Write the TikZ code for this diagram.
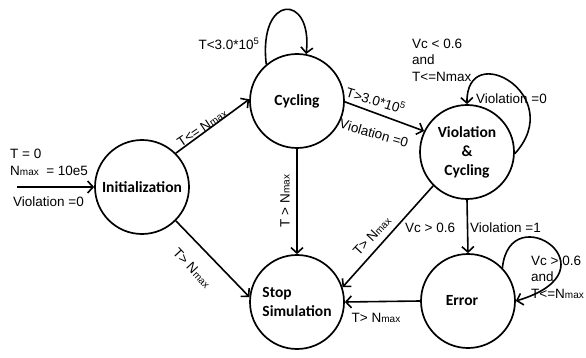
\documentclass[tikz,border=0pt]{standalone}
\usepackage{fontspec}
\setmainfont{Liberation Sans}
\newfontfamily\statefont{Carlito}
\usetikzlibrary{arrows.meta}
% N with a small "max" on the same baseline
\newcommand\Nmx{N{\fontsize{10}{10}\selectfont max}}

\begin{document}
\begin{tikzpicture}[x=1pt,y=-1pt,
  state/.style={circle,draw,line width=1.7pt,minimum size=94pt,inner sep=0pt,
    align=center,font=\statefont\bfseries\fontsize{15.5}{19}\selectfont},
  trans/.style={line width=1.6pt,-{Straight Barb[length=5.5pt,width=12pt,line width=1.6pt]}},
  lbl/.style={font=\fontsize{13.5}{16.5}\selectfont,inner sep=0pt},
]
\useasboundingbox (0,0) rectangle (586,358);

% states
\node[state] (init) at (142,187) {Initialization};
\node[state] (cyc)  at (297,101) {Cycling};
\node[state] (viol) at (467,152) {Violation\\\&\\Cycling};
\node[state,align=left] (stop) at (297,302) {Stop\\Simulation};
\node[state] (err)  at (468,301) {\hspace*{-12pt}Error};

% entry
\coordinate (start) at (17,187);
\draw[trans] (start) -- (init.west);
\node[lbl,anchor=west] (l0a) at (10,154) {T = 0};
\node[lbl,anchor=west] (l0b) at (10,171) {\Nmx{}\ \ = 10e5};
\node[lbl,anchor=west] (l0c) at (13,202) {Violation =0};

% transitions
\draw[trans] (init.45) -- (cyc.178);
\node[lbl,rotate=34] (l1) at (202,128) {T<= \Nmx};

\draw[trans] (init.-45) -- (stop.174);
\node[lbl,rotate=-47] (l2) at (192,268) {T> \Nmx};

\draw[trans] (cyc.130) .. controls (258,-7) and (313,-7) .. (cyc.79);
\node[lbl] (l3) at (229,44) {T<3.0*10\textsuperscript{5}};

\draw[trans] (cyc.-1) -- (viol.154);
\node[lbl,rotate=-17] (l4a) at (376,100) {T>3.0*10\textsuperscript{5}};
\node[lbl,rotate=-16] (l4b) at (374,133) {Violation =0};

\draw[trans] (cyc.south) -- (stop.north);
\node[lbl,rotate=90] (l5) at (285,201) {T > \Nmx};

\draw[trans] (viol.-2) .. controls (568,95) and (466,38) .. (viol.north);
\node[lbl,anchor=west] (l6) at (476,99) {Violation =0};
\node[lbl,anchor=west,align=left] (l6b) at (412,60) {Vc < 0.6\\and\\T<=Nmax};

\draw[trans] (viol.225) -- (stop.18);
\node[lbl,rotate=47] (l7a) at (372,236) {T> \Nmx};
\node[lbl,anchor=west] (l7b) at (405,228) {Vc > 0.6};

\draw[trans] (viol.south) -- (err.north);
\node[lbl,anchor=west] (l8) at (470,228) {Violation =1};

\draw[trans] (err.44) .. controls (510,195) and (620,270) .. (err.0);
\node[lbl,anchor=west,align=left] (l9) at (531,277) {Vc > 0.6\\and\\T<=\Nmx};

\draw[trans] (err.west) -- (stop.east);
\node[lbl] (l10) at (376,318) {T> \Nmx};
\end{tikzpicture}
\end{document}
